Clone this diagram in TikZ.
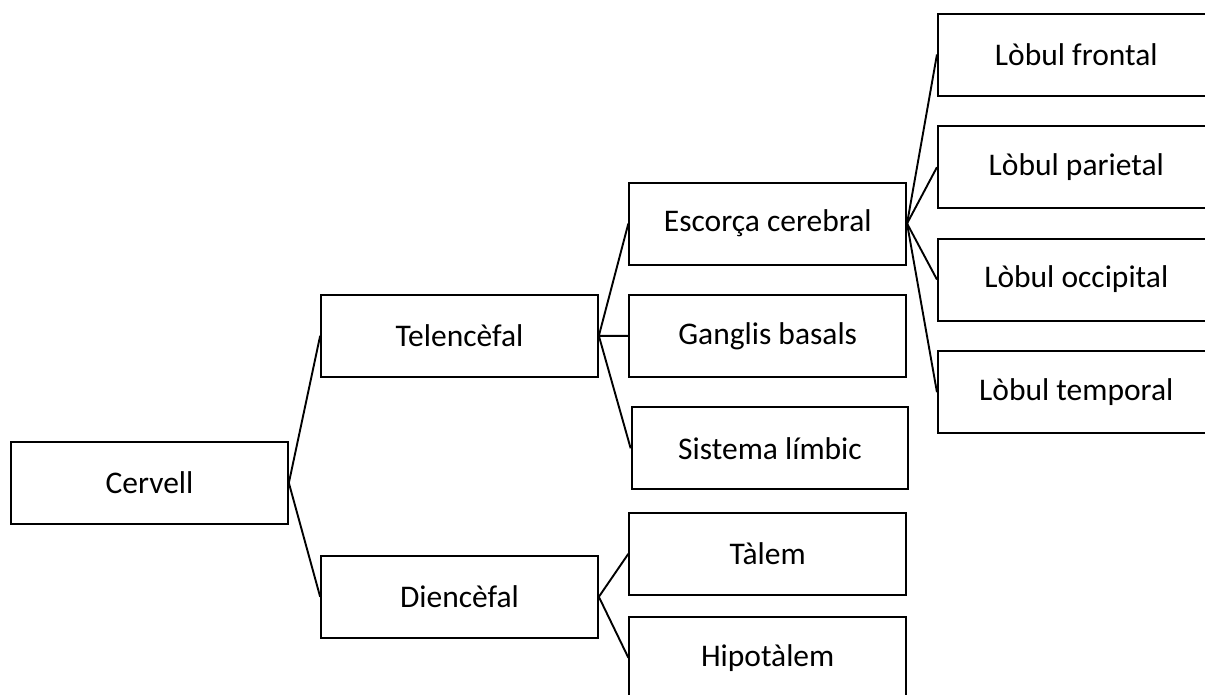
\documentclass[tikz,border=0pt]{standalone}
\usepackage{fontspec}
\setmainfont{Carlito}
\begin{document}
\begin{tikzpicture}[x=1pt,y=-1pt,
  box/.style={draw=black,line width=2pt,fill=white,minimum width=276.7pt,minimum height=82pt,inner sep=0pt,font=\fontsize{31.5}{37}\selectfont,text=black},
  link/.style={draw=black,line width=1.9pt}]
\useasboundingbox (0,0) rectangle (1205,694);
\begin{scope}
\clip (0,0) rectangle (1205,694);
\node[box] (cer) at (149.5,482.9) {Cervell};
\node[box] (tel) at (459.5,335.8) {Telencèfal};
\node[box] (die) at (459.5,596.8) {Diencèfal};
\node[box] (esc) at (767.7,223.5) {Escorça cerebral};
\node[box] (gan) at (767.7,335.8) {Ganglis basals};
\node[box] (sis) at (770,448.3) {Sistema límbic};
\node[box] (tal) at (767.7,553.8) {Tàlem};
\node[box] (hip) at (767.7,657.7) {Hipotàlem};
\node[box] (fro) at (1076.3,54.5) {Lòbul frontal};
\node[box] (par) at (1076.3,167.2) {Lòbul parietal};
\node[box] (occ) at (1076.3,279.5) {Lòbul occipital};
\node[box] (tem) at (1076.3,392.2) {Lòbul temporal};
\draw[link] (tel.west) -- (cer.east) -- (die.west);
\draw[link] (esc.west) -- (tel.east) -- (gan.west);
\draw[link] (tel.east) -- (sis.west);
\draw[link] (tal.west) -- (die.east) -- (hip.west);
\draw[link] (esc.east) -- (fro.west);
\draw[link] (esc.east) -- (par.west);
\draw[link] (esc.east) -- (occ.west);
\draw[link] (esc.east) -- (tem.west);
\end{scope}
\end{tikzpicture}
\end{document}
